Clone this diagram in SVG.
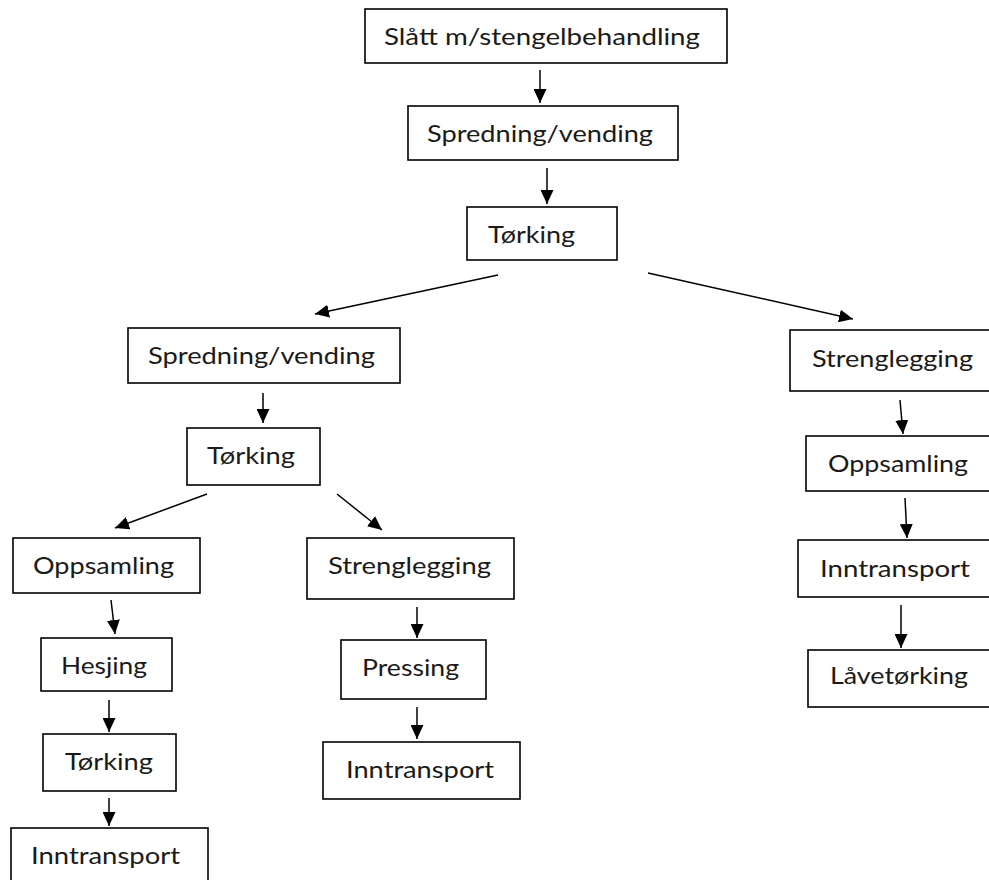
<svg xmlns="http://www.w3.org/2000/svg" width="989" height="880" viewBox="0 0 989 880">
<defs>
<marker id="ah" viewBox="0 0 14 13" refX="14" refY="6.5" markerWidth="14" markerHeight="13" markerUnits="userSpaceOnUse" orient="auto">
<path d="M0,0 L14,6.5 L0,13 z" fill="#000"/>
</marker>
<style>
.box{fill:#fff;stroke:#000;stroke-width:1.6}
.lbl{font-family:Lato,"Open Sans","Liberation Sans",sans-serif;font-size:24px;fill:#1a1a1a}
.con line{stroke:#000;stroke-width:1.5;marker-end:url(#ah)}
</style>
</defs>
<rect width="989" height="880" fill="#fff"/>
<g id="n1"><rect class="box" x="365" y="9" width="362" height="54"/><text class="lbl" x="384" y="45" textLength="316" lengthAdjust="spacingAndGlyphs">Slått m/stengelbehandling</text></g>
<g id="n2"><rect class="box" x="408" y="106" width="270" height="54"/><text class="lbl" x="427" y="142" textLength="226" lengthAdjust="spacingAndGlyphs">Spredning/vending</text></g>
<g id="n3"><rect class="box" x="467" y="207" width="150" height="53"/><text class="lbl" x="488" y="243" textLength="87" lengthAdjust="spacingAndGlyphs">Tørking</text></g>
<g id="n4"><rect class="box" x="128" y="328" width="272" height="55"/><text class="lbl" x="148" y="364" textLength="227" lengthAdjust="spacingAndGlyphs">Spredning/vending</text></g>
<g id="n5"><rect class="box" x="187" y="428" width="133" height="57"/><text class="lbl" x="207" y="464" textLength="88" lengthAdjust="spacingAndGlyphs">Tørking</text></g>
<g id="n6"><rect class="box" x="13" y="538" width="187" height="55"/><text class="lbl" x="33" y="574" textLength="141" lengthAdjust="spacingAndGlyphs">Oppsamling</text></g>
<g id="n7"><rect class="box" x="41" y="638" width="131" height="53"/><text class="lbl" x="61" y="674" textLength="86" lengthAdjust="spacingAndGlyphs">Hesjing</text></g>
<g id="n8"><rect class="box" x="43" y="734" width="133" height="57"/><text class="lbl" x="65" y="770" textLength="88" lengthAdjust="spacingAndGlyphs">Tørking</text></g>
<g id="n9"><rect class="box" x="11" y="828" width="197" height="70"/><text class="lbl" x="31" y="864" textLength="149" lengthAdjust="spacingAndGlyphs">Inntransport</text></g>
<g id="n10"><rect class="box" x="307" y="538" width="207" height="61"/><text class="lbl" x="328" y="574" textLength="163" lengthAdjust="spacingAndGlyphs">Strenglegging</text></g>
<g id="n11"><rect class="box" x="341" y="640" width="145" height="59"/><text class="lbl" x="362" y="676" textLength="97" lengthAdjust="spacingAndGlyphs">Pressing</text></g>
<g id="n12"><rect class="box" x="323" y="742" width="197" height="57"/><text class="lbl" x="346" y="778" textLength="148" lengthAdjust="spacingAndGlyphs">Inntransport</text></g>
<g id="n13"><rect class="box" x="790" y="330" width="210" height="61"/><text class="lbl" x="812" y="367" textLength="161" lengthAdjust="spacingAndGlyphs">Strenglegging</text></g>
<g id="n14"><rect class="box" x="806" y="436" width="194" height="55"/><text class="lbl" x="828" y="472" textLength="140" lengthAdjust="spacingAndGlyphs">Oppsamling</text></g>
<g id="n15"><rect class="box" x="798" y="540" width="202" height="57"/><text class="lbl" x="820" y="577" textLength="150" lengthAdjust="spacingAndGlyphs">Inntransport</text></g>
<g id="n16"><rect class="box" x="808" y="650" width="192" height="57"/><text class="lbl" x="830" y="684" textLength="138" lengthAdjust="spacingAndGlyphs">Låvetørking</text></g>
<g id="connectors" class="con">
<line x1="540" y1="70" x2="540" y2="103"/>
<line x1="547" y1="168" x2="547" y2="204"/>
<line x1="498" y1="275" x2="315" y2="314"/>
<line x1="648" y1="273" x2="853" y2="319"/>
<line x1="263" y1="393" x2="263" y2="423"/>
<line x1="207" y1="494" x2="115" y2="528"/>
<line x1="337" y1="494" x2="382" y2="530"/>
<line x1="111" y1="600" x2="115" y2="634"/>
<line x1="109" y1="700" x2="109" y2="732"/>
<line x1="109" y1="798" x2="109" y2="826"/>
<line x1="417" y1="607" x2="417" y2="638"/>
<line x1="417" y1="707" x2="417" y2="739"/>
<line x1="900" y1="400" x2="903" y2="434"/>
<line x1="905" y1="498" x2="907" y2="538"/>
<line x1="901" y1="605" x2="901" y2="648"/>
</g>
</svg>
